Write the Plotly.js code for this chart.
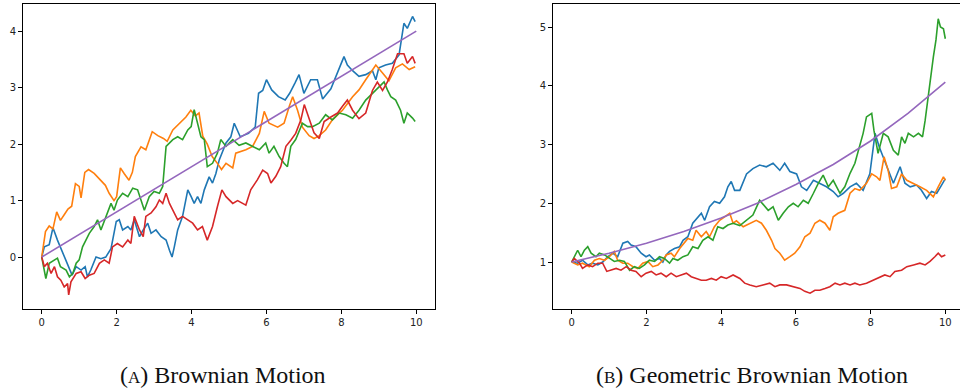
<!DOCTYPE html>
<html>
<head>
<meta charset="utf-8">
<script src="https://cdn.plot.ly/plotly-3.0.1.min.js"></script>
<style>
html,body{margin:0;padding:0;overflow:hidden;background:#fff;}
#chart{width:968px;height:392px;}
</style>
</head>
<body>
<div id="chart"></div>
<script>
// ---------- Data ----------
// (A) Brownian motion: [t, value]
const bmBlue = [[0,0],[0.07,0.18],[0.2,0.22],[0.3,0.52],[0.42,0.3],[0.56,0.07],[0.65,-0.05],[0.74,-0.23],[0.81,-0.32],[0.92,-0.17],[1.05,-0.23],[1.16,-0.17],[1.22,-0.35],[1.31,-0.23],[1.45,0.0],[1.58,-0.03],[1.71,0.0],[1.85,0.15],[1.99,0.63],[2.07,0.66],[2.16,0.48],[2.3,0.54],[2.38,0.48],[2.47,0.66],[2.61,0.36],[2.71,0.48],[2.83,0.6],[2.92,0.42],[3.05,0.48],[3.19,0.36],[3.32,0.3],[3.41,0.12],[3.48,0.0],[3.54,0.18],[3.63,0.48],[3.76,0.72],[3.9,1.19],[3.99,1.07],[4.07,0.95],[4.16,1.07],[4.25,0.95],[4.34,1.19],[4.47,1.42],[4.56,1.31],[4.65,1.48],[4.74,1.72],[4.92,2.02],[5.05,2.13],[5.14,2.37],[5.3,2.13],[5.52,2.19],[5.7,2.3],[5.79,2.9],[5.9,2.95],[6.0,3.14],[6.14,2.96],[6.32,2.84],[6.5,2.78],[6.62,2.9],[6.76,3.08],[6.87,3.23],[7.0,2.9],[7.18,3.14],[7.36,3.14],[7.5,2.8],[7.72,2.98],[7.85,3.2],[7.98,3.43],[8.07,3.55],[8.16,3.4],[8.3,3.3],[8.47,3.2],[8.65,3.23],[8.83,3.3],[8.92,3.14],[9.0,3.35],[9.18,3.4],[9.36,3.43],[9.54,3.58],[9.67,4.14],[9.76,4.05],[9.9,4.26],[9.97,4.17]];
const bmOrange = [[0,0],[0.1,0.45],[0.2,0.55],[0.3,0.5],[0.4,0.8],[0.5,0.65],[0.6,0.75],[0.7,0.85],[0.8,0.9],[0.9,1.3],[1.0,1.25],[1.05,1.05],[1.15,1.5],[1.25,1.55],[1.4,1.48],[1.55,1.38],[1.7,1.27],[1.8,1.13],[1.93,1.0],[2.0,1.07],[2.1,1.58],[2.2,1.48],[2.33,1.36],[2.42,1.5],[2.5,1.78],[2.65,1.95],[2.78,1.9],[2.95,2.22],[3.1,2.15],[3.25,2.1],[3.35,2.05],[3.5,2.25],[3.68,2.37],[3.85,2.48],[3.98,2.6],[4.1,2.5],[4.2,2.55],[4.3,2.14],[4.42,2.0],[4.55,1.78],[4.7,1.65],[4.8,1.55],[4.92,1.66],[5.1,1.58],[5.18,1.84],[5.45,1.9],[5.63,1.96],[5.81,2.19],[5.94,2.58],[6.07,2.37],[6.3,2.3],[6.47,2.37],[6.61,2.67],[6.7,2.84],[6.83,2.6],[6.96,2.3],[7.14,2.15],[7.27,2.1],[7.41,2.15],[7.58,2.25],[7.76,2.43],[8.03,2.6],[8.3,2.84],[8.47,2.96],[8.65,3.14],[8.92,3.4],[9.1,3.26],[9.27,3.12],[9.45,3.35],[9.63,3.42],[9.81,3.32],[9.97,3.37]];
const bmGreen = [[0,0],[0.07,-0.29],[0.11,-0.38],[0.2,-0.11],[0.28,-0.08],[0.42,-0.02],[0.5,-0.17],[0.65,-0.23],[0.74,-0.35],[0.83,-0.29],[0.92,-0.11],[1.0,-0.05],[1.09,0.18],[1.18,0.3],[1.27,0.42],[1.4,0.54],[1.49,0.66],[1.58,0.48],[1.71,0.72],[1.85,0.95],[1.93,0.83],[2.02,1.01],[2.16,1.13],[2.3,1.07],[2.43,1.22],[2.56,1.19],[2.65,1.01],[2.74,0.83],[2.87,1.07],[3.0,1.16],[3.14,1.13],[3.23,1.25],[3.32,1.96],[3.41,2.02],[3.5,2.08],[3.63,2.13],[3.76,2.08],[3.9,2.25],[3.99,2.31],[4.07,2.61],[4.16,2.37],[4.25,2.13],[4.34,2.08],[4.42,1.6],[4.56,1.66],[4.69,1.84],[4.78,2.08],[4.92,1.96],[5.1,2.08],[5.27,1.98],[5.45,2.02],[5.63,1.96],[5.81,1.9],[5.98,2.02],[6.07,1.84],[6.2,1.96],[6.34,1.78],[6.47,1.66],[6.56,1.6],[6.65,1.96],[6.78,2.08],[6.96,2.37],[7.1,2.31],[7.23,2.31],[7.41,2.37],[7.58,2.52],[7.76,2.43],[7.94,2.55],[8.12,2.52],[8.3,2.46],[8.47,2.6],[8.65,2.78],[8.83,2.9],[9.0,3.02],[9.14,3.1],[9.23,2.96],[9.32,2.84],[9.45,2.78],[9.58,2.6],[9.67,2.37],[9.76,2.55],[9.9,2.46],[9.97,2.4]];
const bmRed = [[0,0],[0.07,-0.17],[0.15,-0.11],[0.25,-0.29],[0.34,-0.17],[0.42,-0.35],[0.51,-0.41],[0.6,-0.53],[0.69,-0.47],[0.72,-0.67],[0.78,-0.44],[0.92,-0.29],[1.05,-0.26],[1.16,-0.38],[1.27,-0.32],[1.4,-0.29],[1.54,-0.11],[1.67,-0.05],[1.8,-0.11],[1.89,0.18],[2.02,0.24],[2.16,0.18],[2.3,0.3],[2.38,0.24],[2.47,0.72],[2.61,0.48],[2.71,0.36],[2.78,0.72],[2.92,0.78],[3.05,0.89],[3.14,1.01],[3.23,0.95],[3.32,1.13],[3.41,0.95],[3.5,0.83],[3.63,0.66],[3.76,0.72],[3.9,0.66],[4.03,0.6],[4.16,0.48],[4.29,0.54],[4.42,0.3],[4.56,0.54],[4.69,0.89],[4.81,1.19],[4.92,1.07],[5.1,0.95],[5.23,1.0],[5.36,0.95],[5.45,0.92],[5.58,1.19],[5.76,1.37],[5.9,1.54],[6.03,1.48],[6.12,1.31],[6.25,1.43],[6.38,1.6],[6.52,1.96],[6.65,2.07],[6.78,2.19],[6.92,2.43],[7.01,2.7],[7.14,2.45],[7.27,2.2],[7.41,2.1],[7.54,2.4],[7.72,2.48],[7.9,2.55],[8.03,2.67],[8.16,2.78],[8.3,2.6],[8.47,2.45],[8.65,2.55],[8.83,2.95],[8.96,3.1],[9.1,2.95],[9.23,3.1],[9.36,3.32],[9.5,3.6],[9.67,3.6],[9.76,3.43],[9.9,3.55],[9.97,3.43]];
const bmMean = [[0,0],[10,4]];

// (B) Geometric Brownian motion: [t, value]
const gbmBlue = [[0,1],[0.16,0.98],[0.29,1.03],[0.43,0.95],[0.56,0.98],[0.7,0.95],[0.83,1.0],[0.97,1.09],[1.1,1.15],[1.23,1.09],[1.37,1.32],[1.5,1.35],[1.59,1.29],[1.72,1.26],[1.86,1.15],[1.99,1.09],[2.08,1.12],[2.22,1.03],[2.35,1.06],[2.44,1.0],[2.53,1.12],[2.62,1.18],[2.75,1.23],[2.89,1.26],[2.98,1.37],[3.11,1.43],[3.24,1.66],[3.38,1.77],[3.47,1.83],[3.56,1.71],[3.69,1.94],[3.82,2.03],[3.96,2.0],[4.09,2.11],[4.18,2.28],[4.27,2.37],[4.36,2.22],[4.5,2.22],[4.68,2.5],[4.85,2.59],[5.03,2.65],[5.21,2.62],[5.39,2.68],[5.57,2.56],[5.7,2.68],[5.84,2.54],[6.02,2.5],[6.15,2.28],[6.29,2.22],[6.47,2.39],[6.64,2.34],[6.82,2.28],[7.0,2.2],[7.13,2.11],[7.27,2.17],[7.45,2.28],[7.62,2.34],[7.8,2.22],[7.98,2.5],[8.12,3.19],[8.23,2.96],[8.34,2.79],[8.47,2.56],[8.61,2.34],[8.79,2.62],[8.92,2.34],[9.06,2.28],[9.23,2.31],[9.36,2.22],[9.5,2.08],[9.63,2.2],[9.77,2.17],[9.9,2.31],[10.0,2.42]];
const gbmOrange = [[0,1],[0.16,0.95],[0.29,0.98],[0.47,0.92],[0.61,1.03],[0.74,1.06],[0.88,1.03],[1.01,1.09],[1.14,1.18],[1.23,1.03],[1.37,0.98],[1.5,0.98],[1.64,0.92],[1.77,0.89],[1.9,0.98],[2.04,1.01],[2.17,0.92],[2.31,0.95],[2.44,1.03],[2.53,1.12],[2.66,1.15],[2.75,1.09],[2.89,1.23],[3.02,1.32],[3.11,1.4],[3.24,1.37],[3.33,1.54],[3.47,1.43],[3.6,1.52],[3.69,1.43],[3.82,1.6],[3.96,1.71],[4.09,1.77],[4.23,1.83],[4.32,1.66],[4.41,1.7],[4.59,1.6],[4.77,1.66],[4.94,1.71],[5.08,1.66],[5.21,1.54],[5.35,1.37],[5.44,1.23],[5.57,1.15],[5.7,1.03],[5.84,1.09],[5.97,1.15],[6.11,1.26],[6.24,1.43],[6.38,1.49],[6.51,1.66],[6.64,1.71],[6.78,1.66],[6.91,1.54],[7.0,1.77],[7.13,1.83],[7.31,1.88],[7.45,2.17],[7.58,2.25],[7.71,2.22],[7.89,2.34],[8.03,2.5],[8.16,2.45],[8.25,2.39],[8.36,2.79],[8.47,2.56],[8.56,2.25],[8.7,2.28],[8.83,2.5],[8.97,2.39],[9.15,2.34],[9.32,2.28],[9.5,2.22],[9.68,2.11],[9.81,2.28],[9.95,2.45],[10.0,2.39]];
const gbmGreen = [[0,1],[0.07,1.09],[0.16,1.2],[0.25,1.09],[0.34,1.2],[0.43,1.26],[0.52,1.15],[0.65,1.09],[0.74,1.15],[0.88,1.12],[1.01,1.06],[1.14,1.01],[1.28,1.03],[1.41,1.01],[1.55,0.86],[1.68,0.92],[1.81,0.89],[1.95,0.95],[2.08,1.03],[2.22,1.01],[2.35,1.09],[2.48,1.06],[2.62,0.98],[2.71,1.06],[2.84,1.03],[2.98,1.09],[3.11,1.12],[3.24,1.26],[3.38,1.23],[3.51,1.37],[3.65,1.43],[3.78,1.37],[3.91,1.6],[4.05,1.57],[4.18,1.63],[4.32,1.66],[4.5,1.62],[4.68,1.71],[4.85,1.8],[5.03,2.05],[5.12,1.99],[5.26,1.88],[5.39,1.94],[5.53,1.71],[5.66,1.83],[5.8,1.94],[5.93,2.0],[6.06,1.94],[6.2,2.05],[6.33,2.0],[6.47,2.17],[6.6,2.34],[6.73,2.48],[6.87,2.28],[7.0,2.39],[7.18,2.17],[7.31,2.28],[7.45,2.51],[7.58,2.68],[7.71,2.96],[7.8,3.19],[7.89,3.47],[8.03,3.53],[8.09,3.24],[8.2,2.85],[8.34,3.19],[8.47,3.13],[8.61,2.9],[8.74,2.82],[8.83,3.13],[8.92,3.02],[9.01,3.19],[9.15,3.13],[9.28,3.19],[9.39,3.13],[9.46,3.41],[9.55,3.87],[9.61,4.15],[9.68,4.49],[9.75,4.78],[9.81,5.14],[9.87,5.0],[9.95,4.97],[10.0,4.8]];
const gbmRed = [[0,1],[0.07,1.06],[0.21,0.98],[0.29,0.89],[0.43,0.95],[0.56,0.92],[0.7,0.98],[0.83,0.98],[0.94,0.84],[1.05,0.86],[1.19,0.89],[1.32,0.86],[1.46,0.92],[1.59,0.86],[1.72,0.84],[1.86,0.75],[1.99,0.81],[2.13,0.84],[2.26,0.78],[2.39,0.81],[2.53,0.75],[2.66,0.81],[2.8,0.75],[2.93,0.78],[3.07,0.81],[3.2,0.75],[3.33,0.72],[3.47,0.69],[3.6,0.69],[3.74,0.72],[3.87,0.69],[4.0,0.75],[4.14,0.72],[4.32,0.78],[4.5,0.72],[4.63,0.64],[4.77,0.61],[4.94,0.58],[5.12,0.61],[5.3,0.64],[5.44,0.58],[5.57,0.61],[5.75,0.61],[5.93,0.58],[6.11,0.55],[6.24,0.5],[6.38,0.47],[6.51,0.52],[6.64,0.52],[6.78,0.55],[6.91,0.58],[7.05,0.64],[7.18,0.61],[7.31,0.64],[7.45,0.61],[7.58,0.64],[7.71,0.61],[7.89,0.64],[8.07,0.69],[8.25,0.75],[8.38,0.78],[8.52,0.75],[8.65,0.84],[8.83,0.86],[8.97,0.92],[9.15,0.95],[9.32,0.98],[9.46,0.95],[9.59,1.01],[9.72,1.09],[9.81,1.15],[9.9,1.09],[10.0,1.12]];
const gbmMean = [[0,1],[1,1.15],[2,1.32],[3,1.52],[4,1.75],[5,2.01],[6,2.32],[7,2.66],[8,3.06],[9,3.53],[10,4.06]];

const tickVals = [0,2,4,6,8,10];
const panelTitles = ["(<span style='font-size:17px'>A</span>) Brownian Motion",
                     "(<span style='font-size:17px'>B</span>) Geometric Brownian Motion"];

// ---------- Build ----------
const colors = ["#1f77b4","#ff7f0e","#2ca02c","#d62728","#9467bd"];
function tr(series, color, xa, ya){
  return {x: series.map(p=>p[0]), y: series.map(p=>p[1]), type:'scatter', mode:'lines',
          line:{color:color, width:1.6}, xaxis:xa, yaxis:ya, hoverinfo:'skip', showlegend:false};
}
const traces = [];
[bmBlue,bmOrange,bmGreen,bmRed,bmMean].forEach((s,i)=>traces.push(tr(s,colors[i],'x','y')));
[gbmBlue,gbmOrange,gbmGreen,gbmRed,gbmMean].forEach((s,i)=>traces.push(tr(s,colors[i],'x2','y2')));

const W = 968, H = 392;
function ax(extra){
  return Object.assign({showline:true, mirror:true, linecolor:'#000', linewidth:1,
    ticks:'outside', ticklen:4, tickwidth:1, tickcolor:'#000',
    showgrid:false, zeroline:false,
    tickfont:{family:'DejaVu Sans', size:10, color:'#222'}}, extra);
}
const layout = {
  width: W, height: H,
  margin:{l:0,r:0,t:0,b:0},
  paper_bgcolor:'#fff', plot_bgcolor:'#fff',
  xaxis: ax({domain:[23/W, 435/W], range:[-0.5,10.5], tickvals:tickVals, anchor:'y'}),
  yaxis: ax({domain:[(H-309)/H,(H-3.5)/H], range:[-0.92,4.49], tickvals:[0,1,2,3,4], anchor:'x'}),
  xaxis2: ax({domain:[553/W, 964/W], range:[-0.5,10.5], tickvals:tickVals, anchor:'y2'}),
  yaxis2: ax({domain:[(H-309)/H,(H-3.5)/H], range:[0.2,5.4], tickvals:[1,2,3,4,5], anchor:'x2'}),
  annotations:[
    {text:panelTitles[0], xref:'paper', yref:'paper', x:223/W, y:(H-375)/H, xanchor:'center', yanchor:'middle',
     showarrow:false, font:{family:'Liberation Serif', size:24, color:'#111'}},
    {text:panelTitles[1], xref:'paper', yref:'paper', x:752/W, y:(H-375)/H, xanchor:'center', yanchor:'middle',
     showarrow:false, font:{family:'Liberation Serif', size:24, color:'#111'}}
  ]
};
Plotly.newPlot('chart', traces, layout, {staticPlot:true, displayModeBar:false});
</script>
</body>
</html>
